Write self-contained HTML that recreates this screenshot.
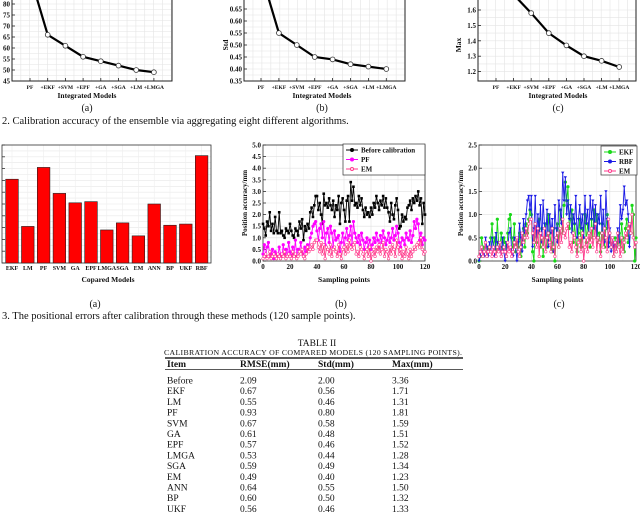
<!DOCTYPE html>
<html><head><meta charset="utf-8">
<style>
body{margin:0;background:#fff;width:640px;height:524px;overflow:hidden;font-family:"Liberation Serif",serif;}
svg{position:absolute;left:0;top:0;}
</style></head>
<body>
<svg id="s" width="640" height="524" xmlns="http://www.w3.org/2000/svg"></svg>
<script>
// ---- data ----
const intCats = ["PF","+EKF","+SVM","+EPF","+GA","+SGA","+LM","+LMGA"];
const intRmse = [93,66,61,56,54,52,50,49];
const intStd = [0.80,0.55,0.50,0.45,0.44,0.42,0.41,0.40];
const intMax = [1.81,1.70,1.58,1.45,1.37,1.30,1.27,1.23];
const barCats = ["EKF","LM","PF","SVM","GA","EPF","LMGA","SGA","EM","ANN","BP","UKF","RBF"];
const barVals = [1.71,1.31,1.81,1.59,1.51,1.52,1.28,1.34,1.23,1.50,1.32,1.33,1.91];
const before = [1.6,1.4,1.1,1.7,1.5,2.1,1.3,1.6,1.2,1.9,1.3,1.2,2.1,1.2,1.3,1.1,1.0,1.4,1.3,1.2,1.6,1.3,1.1,1.0,1.4,1.3,1.1,1.7,1.4,1.8,0.9,1.5,1.3,1.6,1.4,2.1,2.3,1.9,2.4,2.8,2.8,2.2,2.5,2.0,1.6,2.9,2.4,2.5,2.3,2.7,2.4,2.2,2.6,1.9,2.4,2.2,2.8,1.6,2.5,2.7,2.2,1.7,2.6,2.8,1.7,3.4,2.6,3.2,2.4,2.5,2.3,2.8,2.4,2.7,2.2,1.9,2.3,2.0,2.1,1.9,2.3,2.0,2.5,2.3,2.8,2.5,2.2,2.6,2.4,2.8,2.3,2.7,2.3,2.1,1.7,2.5,2.0,1.8,2.4,2.7,2.2,1.4,1.5,2.0,1.7,1.9,1.8,2.3,2.4,2.6,2.2,2.7,2.5,2.8,2.6,3.0,2.4,2.7,1.6,2.5,2.0];
const pf = [0.3,0.7,0.2,0.6,0.8,0.2,0.3,0.5,0.1,0.4,0.3,0.2,0.6,0.3,0.2,0.7,0.3,0.5,0.2,0.8,0.4,0.2,0.6,0.3,0.9,0.2,0.5,0.4,0.8,0.3,0.2,0.6,0.4,0.7,0.5,1.0,1.2,1.5,1.6,1.7,1.3,0.9,1.4,1.6,1.0,1.7,0.7,1.2,1.4,0.8,1.5,1.2,0.6,1.3,0.9,1.0,1.1,0.4,0.8,1.2,0.6,1.0,1.4,0.9,1.1,1.5,0.7,1.7,1.2,1.0,0.8,1.1,0.7,1.2,0.9,0.5,0.8,1.0,0.6,0.9,0.5,0.7,1.0,0.8,1.2,0.9,0.6,1.1,0.8,1.3,1.0,0.7,0.9,1.2,0.8,1.0,1.4,0.9,1.1,1.5,1.2,0.8,0.6,1.0,0.9,0.7,1.2,1.0,0.9,1.3,0.8,1.1,1.7,1.4,1.8,1.6,0.9,1.2,0.7,1.0,0.9];
const em = [0.1,0.2,0.3,0.1,0.2,0.4,0.1,0.2,0.3,0.2,0.1,0.3,0.2,0.1,0.3,0.2,0.4,0.1,0.2,0.3,0.2,0.1,0.4,0.2,0.3,0.1,0.2,0.4,0.3,0.5,0.2,0.1,0.3,0.6,0.4,0.5,0.7,0.5,0.8,0.9,0.9,0.6,0.4,0.8,0.3,0.7,0.1,0.6,0.5,0.3,0.7,0.2,0.5,0.6,0.4,0.2,0.7,0.3,0.1,0.5,0.6,0.3,0.7,0.4,0.9,0.6,0.5,0.7,0.8,0.3,0.4,0.2,0.6,0.5,0.3,0.1,0.4,0.5,0.2,0.6,0.0,0.3,0.5,0.2,0.6,0.4,0.7,0.3,0.5,0.8,0.2,0.5,0.4,0.1,0.6,0.3,0.7,0.5,0.2,0.9,0.6,0.3,0.5,0.1,0.4,0.2,0.6,0.3,0.1,0.5,0.2,0.4,0.6,0.5,0.7,0.8,0.6,1.0,0.5,0.3,0.4];
const ekf = [0.0,0.1,0.5,0.3,0.2,0.4,0.1,0.3,0.2,0.5,0.8,0.3,0.5,0.2,0.9,0.4,0.3,0.6,0.2,0.5,0.4,0.1,0.6,0.9,1.0,0.5,0.3,0.8,0.2,0.4,0.3,0.6,0.1,0.5,0.7,0.3,0.8,0.6,0.9,1.1,1.0,0.2,0.0,0.8,0.4,0.6,0.9,0.3,0.7,0.1,0.5,0.8,0.3,1.0,0.6,0.4,0.2,0.7,0.0,0.5,0.8,0.3,1.1,0.9,0.6,1.2,1.7,1.3,1.6,0.7,0.9,1.1,0.4,0.8,0.5,0.2,0.6,0.9,0.3,0.7,0.5,1.0,0.4,0.8,0.6,0.3,0.9,0.5,1.1,0.7,1.0,0.4,0.6,0.2,0.8,0.5,0.3,0.7,1.0,0.4,0.6,0.3,0.5,0.1,0.5,0.2,0.4,0.6,0.3,0.8,0.5,0.2,0.7,0.9,0.4,0.8,0.6,1.2,1.0,0.0,0.5];
const rbf = [0.0,0.1,0.3,0.2,0.1,0.5,0.3,0.1,0.4,0.2,0.5,0.3,0.1,0.6,0.4,0.2,0.3,0.1,0.5,0.2,0.0,0.4,0.3,0.6,0.7,0.2,0.1,0.5,0.3,0.0,0.4,0.8,0.5,0.2,0.9,0.6,1.0,1.3,1.4,1.1,1.4,0.3,0.7,1.4,0.5,1.0,0.6,1.2,0.4,1.3,0.8,0.5,1.1,0.3,1.0,0.6,0.9,0.2,1.2,0.7,0.4,1.3,1.1,0.8,1.9,1.3,1.8,1.0,1.3,0.9,1.2,0.6,1.0,0.8,1.4,0.5,0.9,1.2,0.7,1.0,0.5,1.4,0.8,1.1,0.6,1.4,0.9,1.3,0.7,1.2,0.5,1.0,0.8,1.4,0.6,1.1,0.4,1.5,0.9,0.3,0.7,0.2,0.5,0.3,0.4,0.2,0.7,0.4,1.2,0.9,1.1,1.6,1.2,1.3,1.0,0.3,0.8];
const tsTicksB = [0,0.5,1.0,1.5,2.0,2.5,3.0,3.5,4.0,4.5,5.0];
const tsTicksC = [0,0.5,1.0,1.5,2.0,2.5];
const xTicks = [0,20,40,60,80,100,120];

const NS="http://www.w3.org/2000/svg";
const svg=document.getElementById('s');
function mk(tag,attrs,parent,text){const e=document.createElementNS(NS,tag);for(const k in attrs)e.setAttribute(k,attrs[k]);if(text!==undefined)e.textContent=text;(parent||svg).appendChild(e);return e;}
function txt(x,y,t,size,opts,name){const o=Object.assign({x:x,y:y,'font-size':size,'font-family':'"Liberation Serif",serif',fill:'#111'},opts||{});const e=mk('text',o,svg,t);


return e;}

// ---- top line charts ----
function lineChart(cfg){
  const g=mk('g',{});
  
  
  const xs=i=>cfg.cx0+i*cfg.cdx;
  mk('rect',{x:cfg.x0,y:-5,width:cfg.x1-cfg.x0,height:cfg.yb+5,fill:'#fff'},g);
  for(let x=cfg.x0;x<cfg.x1;x+=cfg.cdx/2) mk('line',{x1:x,x2:x,y1:-5,y2:cfg.yb,stroke:'#e4e4e4','stroke-width':0.6},g);
  for(let v=cfg.tmin;v<=cfg.tmax+1e-9;v+=cfg.tstep/2){const y=cfg.ys(v);mk('line',{x1:cfg.x0,x2:cfg.x1,y1:y,y2:y,stroke:'#e4e4e4','stroke-width':0.6},g);}
  mk('rect',{x:cfg.x0,y:-5,width:cfg.x1-cfg.x0,height:cfg.yb+5,fill:'none',stroke:'#222','stroke-width':1},g);
  for(let v=cfg.tmin;v<=cfg.tmax+1e-9;v+=cfg.tstep){const y=cfg.ys(v);
    mk('line',{x1:cfg.x0,x2:cfg.x0+3,y1:y,y2:y,stroke:'#222','stroke-width':0.8},g);
    txt(cfg.x0-2,y+2.5,v.toFixed(cfg.dec),7,{'text-anchor':'end','font-weight':'bold'},'y-tick-label');}
  cfg.cats.forEach((c,i)=>{mk('line',{x1:xs(i),x2:xs(i),y1:cfg.yb,y2:cfg.yb-3,stroke:'#222','stroke-width':0.8},g);
    txt(xs(i),cfg.yb+8,c,5.5,{'text-anchor':'middle','font-weight':'bold'},'x-tick-label');});
  const pts=cfg.vals.map((v,i)=>xs(i)+','+cfg.ys(v)).join(' ');
  const pl=mk('polyline',{points:pts,fill:'none',stroke:'#000','stroke-width':2.2},g);
  
  
  cfg.vals.forEach((v,i)=>{const c=mk('circle',{cx:xs(i),cy:cfg.ys(v),r:2.4,fill:'#fff',stroke:'#333','stroke-width':0.8},g);
    
    });
  txt(cfg.tx,98,'Integrated Models',7.5,{'text-anchor':'middle','font-weight':'bold'},'x-axis-title');
  if(cfg.ylab){txt(0,0,cfg.ylab,7.5,{'text-anchor':'middle','font-weight':'bold',transform:`translate(${cfg.ylx},45) rotate(-90)`},'y-axis-title');}
  txt(cfg.tx,111,cfg.sub,10,{'text-anchor':'middle'},'subfigure-label');
}
lineChart({name:'rmse-chart',x0:12,x1:172,yb:81,cx0:30,cdx:17.7,cats:intCats,vals:intRmse,ys:v=>4+(80-v)*2.2,tmin:45,tmax:80,tstep:5,dec:0,tx:87,sub:'(a)'});
lineChart({name:'std-chart',x0:244,x1:405,yb:81,cx0:261,cdx:17.9,cats:intCats,vals:intStd,ys:v=>9+(0.65-v)*240,tmin:0.35,tmax:0.65,tstep:0.05,dec:2,tx:322,sub:'(b)',ylab:'Std',ylx:228});
lineChart({name:'max-chart',x0:478,x1:636,yb:81,cx0:496,cdx:17.6,cats:intCats,vals:intMax,ys:v=>10+(1.6-v)*154,tmin:1.2,tmax:1.6,tstep:0.1,dec:1,tx:558,sub:'(c)',ylab:'Max',ylx:461});
txt(2,124,'2.  Calibration accuracy of the ensemble via aggregating eight different algorithms.',10.5,{},'figure-2-caption');

// ---- bar chart ----
(function(){
  const g=mk('g',{});
  
  
  const x0=2,x1=211,yb=263,yt=145;
  const ys=v=>yb-(v-1.0)*(yb-yt)/1.0;
  const xs=i=>12+i*15.8;
  for(let v=1.0;v<=2.0001;v+=0.05){const y=ys(v);mk('line',{x1:x0,x2:x1,y1:y,y2:y,stroke:'#e8e8e8','stroke-width':0.6},g);}
  for(let i=0;i<barCats.length;i++) mk('line',{x1:xs(i),x2:xs(i),y1:yt,y2:yb,stroke:'#eee','stroke-width':0.6},g);
  mk('rect',{x:x0,y:yt,width:x1-x0,height:yb-yt,fill:'none',stroke:'#333','stroke-width':0.8},g);
  for(let v=1.0;v<=2.0001;v+=0.1){mk('line',{x1:x0,x2:x0+3,y1:ys(v),y2:ys(v),stroke:'#333','stroke-width':0.8},g);}
  barCats.forEach((c,i)=>{
    const b=mk('rect',{x:xs(i)-6.3,y:ys(barVals[i]),width:12.6,height:yb-ys(barVals[i]),fill:'#f00',stroke:'#222','stroke-width':0.6},g);
    
    
    txt(xs(i),yb+7,c,6,{'text-anchor':'middle','font-weight':'bold'},'x-tick-label');
  });
  txt(108,282,'Copared Models',7.5,{'text-anchor':'middle','font-weight':'bold'},'x-axis-title');
  txt(95,307,'(a)',10,{'text-anchor':'middle'},'subfigure-label');
})();

// ---- time series ----
function tsChart(cfg){
  const g=mk('g',{});
  
  
  const yb=261,yt=145;
  const xs=i=>cfg.x0+i*(cfg.x1-cfg.x0)/120;
  const ys=v=>yb-v*(yb-yt)/cfg.ymax;
  for(let t=0;t<=120;t+=10) mk('line',{x1:xs(t),x2:xs(t),y1:yt,y2:yb,stroke:t%20?'#f0f0f0':'#e0e0e0','stroke-width':0.6},g);
  cfg.ticks.forEach(v=>mk('line',{x1:cfg.x0,x2:cfg.x1,y1:ys(v),y2:ys(v),stroke:'#e0e0e0','stroke-width':0.6},g));
  mk('rect',{x:cfg.x0,y:yt,width:cfg.x1-cfg.x0,height:yb-yt,fill:'none',stroke:'#333','stroke-width':0.8},g);
  cfg.ticks.forEach(v=>{mk('line',{x1:cfg.x0,x2:cfg.x0+3,y1:ys(v),y2:ys(v),stroke:'#333','stroke-width':0.8},g);
    txt(cfg.x0-2,ys(v)+2.5,v.toFixed(1),7,{'text-anchor':'end','font-weight':'bold'},'y-tick-label');});
  xTicks.forEach(t=>txt(xs(t),yb+8,String(t),7,{'text-anchor':'middle','font-weight':'bold'},'x-tick-label'));
  cfg.series.forEach(s=>{
    const pl=mk('polyline',{points:s.vals.map((v,i)=>xs(i)+','+ys(v)).join(' '),fill:'none',stroke:s.color,'stroke-width':0.9},g);
    
    
    s.vals.forEach((v,i)=>{
      const m=s.marker==='sq'?mk('rect',{x:xs(i)-1.3,y:ys(v)-1.3,width:2.6,height:2.6,fill:s.color},g)
        :s.marker==='tri'?mk('path',{d:`M${xs(i)-1.6},${ys(v)-1.2}L${xs(i)+1.6},${ys(v)-1.2}L${xs(i)},${ys(v)+1.6}Z`,fill:s.color},g)
        :mk('circle',{cx:xs(i),cy:ys(v),r:1.3,fill:s.fill||s.color,stroke:s.color,'stroke-width':0.6},g);
      
      
    });
  });
  const L=cfg.leg;
  const lg=mk('g',{},g);
  
  
  mk('rect',{x:L.x,y:L.y,width:L.w,height:L.h,fill:'#fff',stroke:'#333','stroke-width':0.7},lg);
  cfg.series.forEach((s,k)=>{const y=L.y+6+k*9.5;
    mk('line',{x1:L.x+3,x2:L.x+15,y1:y,y2:y,stroke:s.color,'stroke-width':1},lg);
    mk('circle',{cx:L.x+9,cy:y,r:1.5,fill:s.fill||s.color,stroke:s.color},lg);
    txt(L.x+18,y+2.5,s.label,7,{'font-weight':'bold'},'legend-entry-'+s.key);});
  txt(cfg.ylx,0,'Position accuracy/mm',7,{'text-anchor':'middle','font-weight':'bold',transform:`rotate(-90 ${cfg.ylx} 203)`,y:203},'y-axis-title');
  txt((cfg.x0+cfg.x1)/2,282,'Sampling points',7.5,{'text-anchor':'middle','font-weight':'bold'},'x-axis-title');
  txt(cfg.subx,307,cfg.sub,10,{'text-anchor':'middle'},'subfigure-label');
}
tsChart({name:'positional-error-chart-b',x0:263,x1:425,ymax:5,ticks:tsTicksB,ylx:247,sub:'(b)',subx:341,
  leg:{x:343,y:144,w:82,h:31},
  series:[{key:'before',label:'Before calibration',vals:before,color:'#000',marker:'sq'},
          {key:'pf',label:'PF',vals:pf,color:'#ff00ff'},
          {key:'em',label:'EM',vals:em,color:'#ff3a8c',fill:'#fff'}]});
tsChart({name:'positional-error-chart-c',x0:479,x1:636,ymax:2.5,ticks:tsTicksC,ylx:463,sub:'(c)',subx:559,
  leg:{x:601,y:146,w:36,h:29},
  series:[{key:'ekf',label:'EKF',vals:ekf,color:'#18d818'},
          {key:'rbf',label:'RBF',vals:rbf,color:'#1a1ae6',marker:'tri'},
          {key:'em',label:'EM',vals:em,color:'#ff3a8c',fill:'#fff'}]});
txt(2,319,'3.  The positional errors after calibration through these methods (120 sample points).',10.5,{},'figure-3-caption');

// ---- table ----
const tItems=["Before","EKF","LM","PF","SVM","GA","EPF","LMGA","SGA","EM","ANN","BP","UKF"];
const tRmse=["2.09","0.67","0.55","0.93","0.67","0.61","0.57","0.53","0.59","0.49","0.64","0.60","0.56"];
const tStd=["2.00","0.56","0.46","0.80","0.58","0.48","0.46","0.44","0.49","0.40","0.55","0.50","0.46"];
const tMax=["3.36","1.71","1.31","1.81","1.59","1.51","1.52","1.28","1.34","1.23","1.50","1.32","1.33"];
txt(317,346,'TABLE II',9.5,{'text-anchor':'middle'},'table-title');
txt(313,355,'CALIBRATION ACCURACY OF COMPARED MODELS (120 SAMPLING POINTS).',7.8,{'text-anchor':'middle',textLength:298},'table-caption');
mk('line',{x1:165,x2:463,y1:358,y2:358,stroke:'#222','stroke-width':1.6});
mk('line',{x1:165,x2:463,y1:369.5,y2:369.5,stroke:'#222','stroke-width':0.7});
const cols=[167,240,318,392];
["Item","RMSE(mm)","Std(mm)","Max(mm)"].forEach((h,i)=>txt(cols[i],367,h,9.5,{'font-weight':'bold'},'column-header'));
tItems.forEach((it,r)=>{const y=383.5+r*10.7;
  txt(cols[0],y,it,9.5,{},'row-item');
  txt(cols[1],y,tRmse[r],9.5,{},'cell-rmse');
  txt(cols[2],y,tStd[r],9.5,{},'cell-std');
  txt(cols[3],y,tMax[r],9.5,{},'cell-max');});
</script>
</body></html>
